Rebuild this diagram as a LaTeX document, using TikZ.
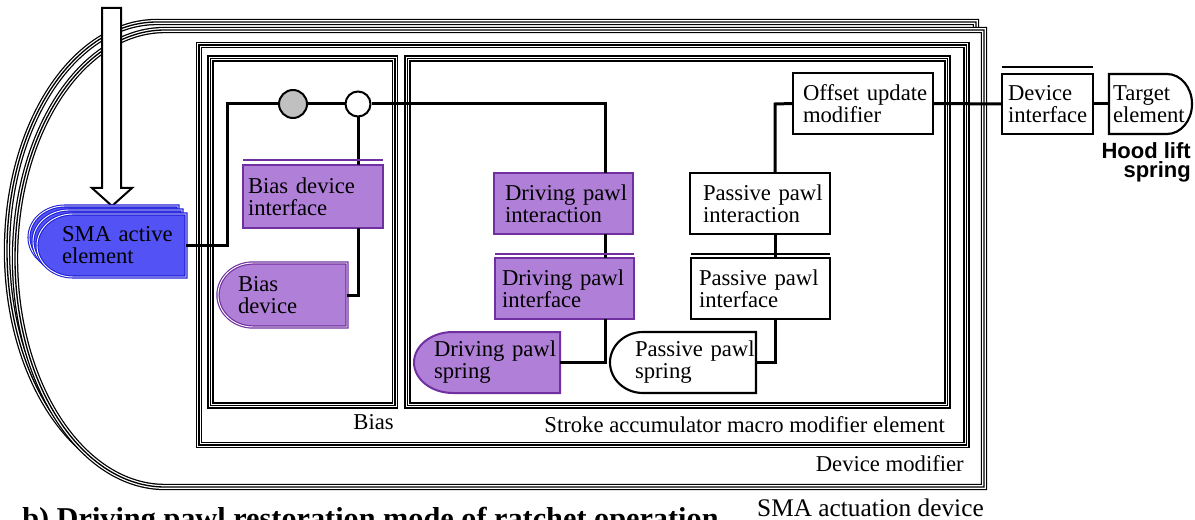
\documentclass[tikz,border=0pt]{standalone}
\usepackage{fontspec}
\setmainfont{Liberation Serif}
\newfontfamily\labelsans{Liberation Sans}
\usetikzlibrary{calc}
\hyphenpenalty=10000

\definecolor{smablue}{RGB}{82,82,245}
\definecolor{smaedge}{RGB}{30,30,215}
\definecolor{pawlfill}{RGB}{176,128,216}
\definecolor{pawledge}{RGB}{112,48,160}
\definecolor{hubgray}{RGB}{192,192,192}

\pgfdeclarelayer{bg}
\pgfsetlayers{bg,main}

\tikzset{
  encl/.style={line width=4.8pt, draw=black,
    postaction={draw=white, line width=2.9pt},
    postaction={draw=black, line width=1pt}},
  wire/.style={line width=2.25pt},
  elem/.style={inner xsep=0pt, inner ysep=0pt, outer sep=0pt, align=left,
    font=\fontsize{17}{16.5}\selectfont},
  blk/.style={elem, draw, line width=1.6pt, fill=white},
  prp/.style={elem, draw=pawledge, line width=1.6pt, fill=pawlfill},
  smabody/.style={fill=smablue, draw=smaedge, line width=0.8pt, double=white, double distance=0.7pt},
  pawlbody/.style={fill=pawlfill, draw=pawledge, line width=1.5pt},
  plainbody/.style={fill=white, draw=black, line width=1.6pt},
  hub/.style={circle, draw, line width=1.5pt, inner sep=0pt},
  pbar/.style={line width=2pt, draw=pawledge},
  ifbar/.style={line width=2.2pt},
  lbl/.style={inner sep=0pt},
}

\begin{document}
\begin{tikzpicture}[x=0.75pt, y=-0.75pt]
  \useasboundingbox (0,0) rectangle (1195,520);

  % Elements (text holders, bodies drawn on bg layer)
  \node[elem, minimum width=111.75pt, minimum height=47.25pt, text width=74.25pt] (sma) at (111.5,245.5) {SMA~active\\element};
  \node[elem, minimum width=96.75pt, minimum height=48pt, text width=66.75pt] (bdev) at (282.5,295) {Bias\\device};
  \node[elem, minimum width=109.5pt, minimum height=45.75pt, text width=79.5pt] (dps) at (487,362.5) {Driving~pawl\\spring};
  \node[elem, minimum width=109.5pt, minimum height=45.75pt, text width=72pt] (pps) at (683,362.5) {Passive~pawl\\spring};
  \node[elem, minimum width=62.25pt, minimum height=45pt, text width=56.25pt] (tgt) at (1150.5,104) {Target\\element};

  % Interactions, interfaces, modifiers
  \node[prp, minimum width=105pt, minimum height=47.25pt, text width=97.5pt] (bif) at (313,196.5) {Bias~device\\interface};
  \node[prp, minimum width=104.25pt, minimum height=45.75pt, text width=87.75pt] (dpi) at (563.5,203.5) {Driving~pawl\\interaction};
  \node[prp, minimum width=104.25pt, minimum height=45.75pt, text width=93.75pt] (dpf) at (564.5,288.5) {Driving~pawl\\interface};
  \node[blk, minimum width=105pt, minimum height=45.75pt, text width=85.5pt] (ppi) at (760,203.5) {Passive~pawl\\interaction};
  \node[blk, minimum width=104.25pt, minimum height=45.75pt, text width=92.25pt] (ppf) at (760.5,288.5) {Passive~pawl\\interface};
  \node[blk, minimum width=105pt, minimum height=45.75pt, text width=90pt] (oum) at (863,103.5) {Offset~update\\modifier};
  \node[blk, minimum width=68.25pt, minimum height=45pt, text width=59.25pt] (devif) at (1047.5,104) {Device\\interface};

  % Junctions
  \node[hub, fill=hubgray, minimum size=21pt] (gc) at (293,104) {};
  \node[hub, fill=white, minimum size=18.75pt] (wc) at (358,104) {};
  \coordinate (jn) at (227,104);
  \coordinate (dk) at (605,104);
  \coordinate (pk) at (775,104);

  \begin{pgfonlayer}{bg}
    % SMA actuation device, two stacked copies
    \foreach \s in {8,0}
      \draw[encl, fill=white] (984-\s,30-\s) -- (165-\s,30-\s)
        arc[start angle=270, end angle=90, x radius=150, y radius=228.5]
        -- (984-\s,487-\s) -- cycle;

    % Device modifier, Bias, Stroke accumulator
    \draw[encl] (199,45) rectangle (966.5,445);
    \draw[encl] (210.5,58.5) rectangle (395,405.5);
    \draw[encl] (407.5,58.5) rectangle (947.5,405.5);

    % Input arrow
    \draw[line width=1.5pt, fill=white] (102,8) -- (121,8) -- (121,188) -- (132,188)
      -- (112,206) -- (92,188) -- (102,188) -- cycle;

    % Element bodies
    \foreach \s in {8,4,0}
      \draw[smabody] ([shift={(-\s,-\s)}]sma.north east) -- ([shift={(-\s,-\s)},xshift=27pt]sma.north west)
        arc[start angle=270, end angle=90, x radius=36, y radius=31.5]
        -- ([shift={(-\s,-\s)}]sma.south east) -- cycle;
    \draw[pawlbody, line width=0.9pt, double=white, double distance=0.7pt] (bdev.north east) -- ([xshift=26.25pt]bdev.north west)
      arc[start angle=270, end angle=90, x radius=35, y radius=32] -- (bdev.south east) -- cycle;
    \draw[pawlbody] (dps.north east) -- ([xshift=29.25pt]dps.north west)
      arc[start angle=270, end angle=90, x radius=39, y radius=30.5] -- (dps.south east) -- cycle;
    \draw[plainbody] (pps.north east) -- ([xshift=24.75pt]pps.north west)
      arc[start angle=270, end angle=90, x radius=33, y radius=30.5] -- (pps.south east) -- cycle;
    \draw[plainbody] (tgt.north west) -- ([xshift=-18.75pt]tgt.north east)
      arc[start angle=270, end angle=450, x radius=25, y radius=30] -- (tgt.south west) -- cycle;
  \end{pgfonlayer}

  % Connections
  \draw[wire] (sma.east) -| (jn) -- (gc.west);
  \draw[wire] (gc.east) -- (wc.west);
  \draw[wire] (wc.east) -- (dk) -- (dk |- dpi.north);
  \draw[wire] (dk |- dpi.south) -- (dk |- dpf.north);
  \draw[wire] (dk |- dpf.south) |- (dps.east);
  \draw[wire] (wc.south) -- (wc.south |- bif.north);
  \draw[wire] (wc.south |- bif.south) |- (bdev.east);
  \draw[wire] (oum.west) -- (pk) -- (pk |- ppi.north);
  \draw[wire] (pk |- ppi.south) -- (pk |- ppf.north);
  \draw[wire] (pk |- ppf.south) |- (pps.east);
  \draw[wire] (oum.east) -- (devif.west);
  \draw[wire] (devif.east) -- (tgt.west);

  % Interface bars
  \draw[pbar] ([yshift=3.75pt]bif.north west) -- ([yshift=3.75pt]bif.north east);
  \draw[pbar] ([yshift=3pt]dpf.north west) -- ([yshift=3pt]dpf.north east);
  \draw[ifbar] ([yshift=3pt]ppf.north west) -- ([yshift=3pt]ppf.north east);
  \draw[ifbar] ([yshift=5.25pt]devif.north west) -- ([yshift=5.25pt]devif.north east);

  % Labels
  \node[lbl, anchor=base east, font=\fontsize{17}{17}\selectfont] (biaslbl) at (394,429) {Bias};
  \node[lbl, anchor=base east, font=\fontsize{17}{17}\selectfont] (samlbl) at (945,432) {Stroke accumulator macro modifier element};
  \node[lbl, anchor=base east, font=\fontsize{17}{17}\selectfont] (dmlbl) at (964,471) {Device modifier};
  \node[lbl, anchor=base east, font=\fontsize{19}{19}\selectfont] (smalbl) at (984,516) {SMA actuation device};
  \node[lbl, anchor=north east, align=right, font=\labelsans\bfseries\fontsize{16.5}{14.5}\selectfont] (hood) at (1191,142) {Hood lift\\spring};
  \node[lbl, anchor=base west, font=\fontsize{22.7}{24}\selectfont\bfseries] (caption) at (22,528) {b) Driving pawl restoration mode of ratchet operation};
\end{tikzpicture}
\end{document}
